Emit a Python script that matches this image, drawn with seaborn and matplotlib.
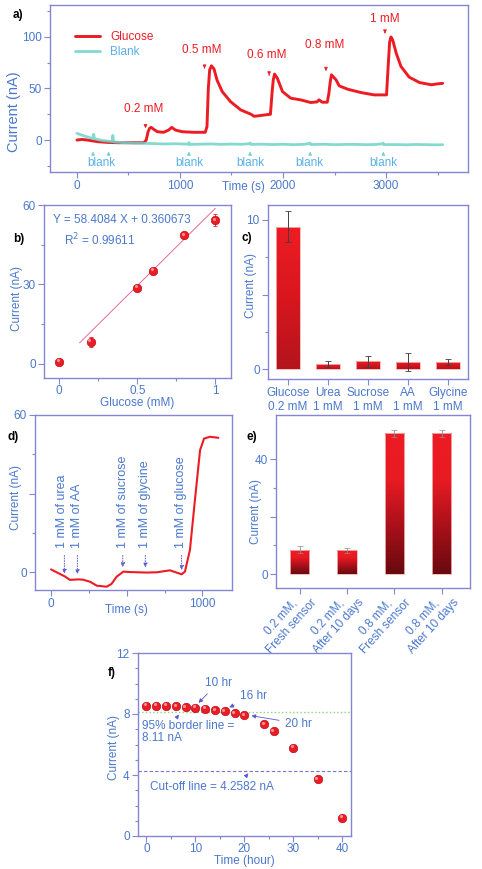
import numpy as np
import matplotlib
matplotlib.use('Agg')
import matplotlib.pyplot as plt
import seaborn as sns
from matplotlib.colors import LinearSegmentedColormap
from matplotlib.transforms import offset_copy, ScaledTranslation

# ---- data: a) amperometric response ----
gluc_t = [0, 50, 100, 200, 300, 400, 550, 650, 672, 690, 705, 720, 745, 780, 840, 890, 920, 955,
          1020, 1130, 1245, 1262, 1275, 1288, 1305, 1330, 1360, 1410, 1490, 1590, 1690, 1720, 1780,
          1860, 1878, 1893, 1905, 1918, 1945, 1995, 2075, 2170, 2270, 2330, 2350, 2380, 2430, 2445,
          2458, 2470, 2515, 2545, 2625, 2755, 2885, 3005, 3020, 3035, 3048, 3065, 3100, 3145, 3225,
          3325, 3440, 3500, 3550]
gluc_i = [0, 0.6, 0, -1.6, -2.3, -2.6, -2.6, -2.6, 0, 8, 11.5, 12.3, 10.4, 8.1, 7.5, 9.7, 12.3, 9.7,
          8.1, 7.5, 7.5, 13, 50, 68, 72, 69, 58, 47, 37.3, 29.2, 25, 23, 23.8,
          24.8, 25, 45, 58, 64, 60, 47, 40.6, 39, 36.4, 37, 39, 36.7, 36.7, 45,
          56, 63.3, 58.4, 52.6, 49.4, 46.1, 43.8, 43.8, 70, 95, 100, 97, 84, 71.4, 61,
          55.8, 53.6, 54.5, 55]
blank_t = [0, 40, 100, 155, 162, 170, 250, 340, 348, 356, 450, 550, 650, 750, 850, 950, 1083, 1088,
           1093, 1200, 1300, 1400, 1500, 1600, 1676, 1681, 1686, 1800, 1900, 2000, 2100, 2200, 2258,
           2263, 2268, 2400, 2500, 2600, 2700, 2800, 2900, 2968, 2973, 2978, 3100, 3200, 3300, 3400,
           3500, 3550]
blank_i = [6.5, 5, 3, 1.5, 5.5, 1.2, -0.5, -1.5, 4.5, -1.8, -2.5, -3, -3.2, -3.5, -3.8, -3.6, -4, -2.5,
           -4.2, -4, -3.8, -4.2, -3.9, -4.1, -3.6, -2.8, -4.2, -4, -4.4, -4.1, -4.5, -4.2, -3.4,
           -2.9, -4.4, -4.1, -4.5, -4.3, -4.2, -4.5, -4.3, -3.6, -3.0, -4.4, -4.4, -4.6, -4.3, -4.5,
           -4.7, -4.5]
conc_labels = ['0.2 mM', '0.5 mM', '0.6 mM', '0.8 mM', '1 mM']
conc_text_t = [649, 1216, 1839, 2400, 2984]
conc_text_i = [29.9, 87, 82.8, 91.9, 117.9]
conc_arrow_t = [665, 1238, 1865, 2417, 2990]
conc_arrow_i = [(16.2, 11.4), (73, 66.6), (65.6, 60), (71.4, 64.3), (107, 100.6)]
blank_text_t = [237, 1087, 1680, 2254, 2974]
blank_arrow_t = [156, 308, 1087, 1680, 2264, 2974]

# ---- b) calibration ----
cal_x = [0, 0.2, 0.5, 0.6, 0.8, 1.0]
cal_y = [0.9, 8.4, 28.8, 35.2, 48.7, 54.3]
cal_err = [0.5, 1.9, 0.8, 0.6, 1.0, 2.3]
fit_slope, fit_icpt = 58.4084, 0.360673
fit_range = [0.13, 1.0]

# ---- c) interference ----
int_labels = ['Glucose\n0.2 mM', 'Urea\n1 mM', 'Sucrose\n1 mM', 'AA\n1 mM', 'Glycine\n1 mM']
int_vals = [9.55, 0.33, 0.55, 0.47, 0.5]
int_err = [1.05, 0.2, 0.37, 0.6, 0.22]

# ---- d) sequential addition ----
seq_t = [0, 92, 125, 180, 210, 258, 302, 368, 400, 434, 478, 522, 632, 698, 786, 830, 863, 885,
         918, 951, 985, 1011, 1050, 1106]
seq_i = [1.1, -1.6, -2.9, -2.7, -2.8, -3.6, -5.1, -5.5, -4.4, -1.65, 0.25, 0.1, -0.1, 0, 0.75, -0.1,
         -0.75, 0.25, 8.5, 27.6, 46.6, 51, 51.7, 51.3]
add_labels = ['1 mM of urea', '1 mM of AA', '1 mM of sucrose', '1 mM of glycine', '1 mM of glucose']
add_text_t = [70, 174, 474, 623, 859]
add_arrow_t = [88, 174, 474, 623, 863]
add_arrow_end = [-1.6, -1.8, 0.9, 0.8, -0.2]

# ---- e) storage stability ----
stab_labels = ['0.2 mM,\nFresh sensor', '0.2 mM,\nAfter 10 days', '0.8 mM,\nFresh sensor', '0.8 mM,\nAfter 10 days']
stab_vals = [8.58, 8.35, 48.9, 48.9]
stab_err = [1.1, 0.8, 1.1, 1.1]

# ---- f) continuous operation ----
hours = [0, 2, 4, 6, 8, 10, 12, 14, 16, 18, 20, 24, 26, 30, 35, 40]
hour_i = [8.55, 8.55, 8.55, 8.53, 8.47, 8.42, 8.36, 8.23, 8.2, 8.05, 7.92, 7.35, 6.87, 5.8, 3.71, 1.2]
border_line = 8.11
cutoff_line = 4.2582

RED = '#ec1c24'
TEAL = '#6fd3c9'
BLUE = '#4a78cc'
LBLUE = '#5ab0e6'
SPINE = '#8585d6'
ARROW = '#5a5ad0'
FS = 8.5

sns.set_style('ticks')
plt.rcParams['font.family'] = ['Liberation Sans', 'DejaVu Sans']

fig = plt.figure(figsize=(4.82, 8.69), dpi=100)
W, H = 482, 869


def add_ax(l, t, r, b):
    return fig.add_axes([l / W, 1 - b / H, (r - l) / W, (b - t) / H])


def style(ax):
    for s in ax.spines.values():
        s.set_visible(True)
        s.set_color(SPINE)
        s.set_linewidth(1)
    ax.tick_params(which='both', direction='out', color=SPINE, labelcolor=BLUE, labelsize=FS, width=0.8)
    ax.tick_params(which='major', length=4, pad=2)
    ax.tick_params(which='minor', length=2.5)
    ax.xaxis.label.set_color(BLUE)
    ax.yaxis.label.set_color(BLUE)
    ax.xaxis.label.set_size(FS)
    ax.yaxis.label.set_size(FS)


def balls(ax, x, y):
    sns.scatterplot(x=x, y=y, ax=ax, color=RED, s=38, edgecolor='#b00010', linewidth=0.4, zorder=4)
    tr = offset_copy(ax.transData, fig=fig, x=-0.9, y=0.9, units='points')
    ax.scatter(x, y, s=5, color='#ff9090', linewidths=0, transform=tr, zorder=5)


def gradient_bars(ax, colors):
    cmap = LinearSegmentedColormap.from_list('g', colors)
    grad = np.linspace(0, 1, 256).reshape(-1, 1)
    for b in list(ax.patches):
        x0, y0, w, h = b.get_x(), b.get_y(), b.get_width(), b.get_height()
        im = ax.imshow(grad, cmap=cmap, extent=[x0, x0 + w, y0, y0 + h], origin='lower',
                       aspect='auto', zorder=2, interpolation='bilinear')
        im.set_clip_path(b)
        b.set_facecolor('none')
        b.set_edgecolor('#f2b4b4')
        b.set_linewidth(0.6)
        b.set_zorder(3)


# ================= a) =================
ax = add_ax(50, 5, 468, 172)
sns.lineplot(x=gluc_t, y=gluc_i, ax=ax, color=RED, lw=2.1, label='Glucose', zorder=3)
sns.lineplot(x=blank_t, y=blank_i, ax=ax, color=TEAL, lw=2.0, alpha=0.85, label='Blank', zorder=4)
ax.set_xlim(-262, 3796)
ax.set_ylim(-31, 131)
ax.set_xticks([0, 1000, 2000, 3000])
ax.set_xticks([500, 1500, 2500, 3500], minor=True)
ax.set_yticks([0, 50, 100])
ax.set_yticks([-25, 25, 75, 125], minor=True)
ax.set_xlabel('Time (s)')
ax.set_ylabel('Current (nA)')
style(ax)
ax.yaxis.label.set_size(10.5)
ax.xaxis.set_label_coords(0.462, -0.055)
ax.yaxis.set_label_coords(-0.07, 0.36)
leg = ax.legend(loc='upper left', bbox_to_anchor=(0.06, 0.845), frameon=False, fontsize=FS,
                handlelength=2.1, handletextpad=0.9, labelspacing=0.3, borderaxespad=0, borderpad=0)
for txt, c in zip(leg.get_texts(), [RED, LBLUE]):
    txt.set_color(c)
for lab, tx, ty in zip(conc_labels, conc_text_t, conc_text_i):
    ax.text(tx, ty, lab, color=RED, fontsize=FS, ha='center', va='center')
for tx, (y0, y1) in zip(conc_arrow_t, conc_arrow_i):
    ax.annotate('', xy=(tx, y1), xytext=(tx, y0),
                arrowprops=dict(arrowstyle='-|>', color=RED, lw=0.6, mutation_scale=5))
for tx in blank_text_t:
    ax.text(tx, -22.7, 'blank', color=LBLUE, fontsize=FS, ha='center', va='center')
for tx in blank_arrow_t:
    ax.annotate('', xy=(tx, -8.5), xytext=(tx, -16),
                arrowprops=dict(arrowstyle='-|>', color=TEAL, lw=0.6, mutation_scale=5))

# ================= b) =================
ax = add_ax(44, 205, 231, 378)
fx = np.array(fit_range)
ax.plot(fx, fit_slope * fx + fit_icpt, color='#e8508a', lw=0.6, zorder=2)
ax.errorbar(cal_x, cal_y, yerr=cal_err, fmt='none', ecolor=RED, elinewidth=0.6, capsize=1.5,
            capthick=0.6, zorder=3)
balls(ax, cal_x, cal_y)
ax.set_xlim(-0.098, 1.10)
ax.set_ylim(-5.3, 60)
ax.set_xticks([0, 0.5, 1])
ax.set_xticklabels(['0', '0.5', '1'])
ax.set_xticks([0.25, 0.75], minor=True)
ax.set_yticks([0, 30, 60])
ax.set_yticks([15, 45], minor=True)
ax.set_xlabel('Glucose (mM)')
ax.set_ylabel('Current (nA)')
style(ax)
ax.tick_params(axis='x', which='major', pad=1)
ax.xaxis.set_label_coords(0.5, -0.112)
ax.yaxis.set_label_coords(-0.11, 0.46)
ax.text(-0.043, 54.3, 'Y = 58.4084 X + 0.360673', color=BLUE, fontsize=FS, ha='left', va='center')
ax.text(0.032, 46.8, 'R$^2$ = 0.99611', color=BLUE, fontsize=FS, ha='left', va='center')

# ================= c) =================
ax = add_ax(268, 205, 468, 379)
sns.barplot(x=int_labels, y=int_vals, ax=ax, color=RED, width=0.6, errorbar=None)
gradient_bars(ax, ['#b3141c', '#d8161e', '#ee1c24'])
ax.errorbar(range(len(int_vals)), int_vals, yerr=int_err, fmt='none', ecolor='#404040',
            elinewidth=0.7, capsize=2, capthick=0.6, zorder=5)
ax.set_xlim(-0.5, 4.5)
ax.set_ylim(-0.65, 11.0)
ax.set_yticks([0, 5, 10])
ax.set_yticklabels(['0', '', '10'])
ax.set_yticks([2.5, 7.5], minor=True)
ax.set_ylabel('Current (nA)')
ax.set_xlabel('')
style(ax)
ax.yaxis.set_label_coords(-0.055, 0.54)

# ================= d) =================
ax = add_ax(35, 415, 232, 590)
sns.lineplot(x=seq_t, y=seq_i, ax=ax, color=RED, lw=1.5)
for lab, tx in zip(add_labels, add_text_t):
    ax.text(tx, 9.2, lab, color=BLUE, fontsize=9, rotation=90, ha='center', va='bottom')
for tx, ye in zip(add_arrow_t, add_arrow_end):
    ax.annotate('', xy=(tx, ye), xytext=(tx, 7.5),
                arrowprops=dict(arrowstyle='-|>', color=ARROW, lw=0.7, ls=':', mutation_scale=6))
ax.set_xlim(-106, 1196)
ax.set_ylim(-6.75, 60)
ax.set_xticks([0, 500, 1000])
ax.set_xticklabels(['0', '', '1000'])
ax.set_xticks([250, 750], minor=True)
ax.set_yticks([0, 30, 60])
ax.set_yticklabels(['0', '', '60'])
ax.set_yticks([15, 45], minor=True)
ax.set_xlabel('Time (s)')
ax.set_ylabel('Current (nA)')
style(ax)
ax.xaxis.set_label_coords(0.462, -0.08)
ax.yaxis.set_label_coords(-0.066, 0.53)

# ================= e) =================
ax = add_ax(276, 415, 470, 588)
sns.barplot(x=stab_labels, y=stab_vals, ax=ax, color=RED, width=0.41, errorbar=None)
gradient_bars(ax, ['#680a0e', '#a8101a', '#e81a22', '#ee1c24'])
ax.errorbar(range(len(stab_vals)), stab_vals, yerr=stab_err, fmt='none', ecolor='#909090',
            elinewidth=0.6, capsize=2, capthick=0.5, zorder=5)
ax.set_xlim(-0.5, 3.6)
ax.set_ylim(-4.77, 55.3)
ax.set_yticks([0, 20, 40])
ax.set_yticklabels(['0', '', '40'])
ax.set_yticks([10, 30], minor=True)
ax.set_ylabel('Current (nA)')
ax.set_xlabel('')
style(ax)
ax.yaxis.set_label_coords(-0.072, 0.44)
shift = ScaledTranslation(7 / 72, 0, fig.dpi_scale_trans)
for lab in ax.get_xticklabels():
    lab.set_rotation(48)
    lab.set_ha('right')
    lab.set_va('center')
    lab.set_rotation_mode('anchor')
    lab.set_multialignment('center')
    lab.set_transform(lab.get_transform() + shift)

# ================= f) =================
ax = add_ax(138, 653, 351, 836)
ax.axhline(border_line, color='#8fd27a', ls=':', lw=1.0, zorder=1)
ax.axhline(cutoff_line, color='#7b6fd6', ls=(0, (3, 2)), lw=0.8, zorder=1)
balls(ax, hours, hour_i)
ax.set_xlim(-1.72, 41.8)
ax.set_ylim(0, 12)
ax.set_xticks([0, 10, 20, 30, 40])
ax.set_xticks([5, 15, 25, 35], minor=True)
ax.set_yticks([0, 4, 8, 12])
ax.set_yticks([1, 2, 3, 5, 6, 7, 9, 10, 11], minor=True)
ax.set_xlabel('Time (hour)')
ax.set_ylabel('Current (nA)')
style(ax)
ax.tick_params(axis='x', which='major', pad=1)
ax.xaxis.set_label_coords(0.5, -0.105)
ax.yaxis.set_label_coords(-0.085, 0.486)
arr = dict(arrowstyle='-|>', color=ARROW, lw=0.6, mutation_scale=6)
ax.annotate('10 hr', xy=(10.25, 8.6), xytext=(14.7, 10.06), color=BLUE, fontsize=FS,
            ha='center', va='center', arrowprops=arr)
ax.annotate('16 hr', xy=(16.4, 8.36), xytext=(21.9, 9.16), color=BLUE, fontsize=FS,
            ha='center', va='center', arrowprops=arr)
ax.annotate('20 hr', xy=(20.9, 7.92), xytext=(31.1, 7.37), color=BLUE, fontsize=FS,
            ha='center', va='center', arrowprops=arr)
ax.text(-1.0, 7.62, '95% border line =\n8.11 nA', color=BLUE, fontsize=FS, ha='left', va='top',
        linespacing=1.05)
ax.annotate('', xy=(7.0, 8.11), xytext=(5.8, 7.6), arrowprops=arr)
ax.text(0.8, 3.23, 'Cut-off line = 4.2582 nA', color=BLUE, fontsize=FS, ha='left', va='center')
ax.annotate('', xy=(21.2, 4.25), xytext=(19.9, 3.75), arrowprops=arr)

# ---- panel letters ----
for lab, px, py in [('a)', 18, 15), ('b)', 19, 239), ('c)', 247, 238), ('d)', 13, 437),
                    ('e)', 252, 437), ('f)', 112, 673)]:
    fig.text(px / W, 1 - py / H, lab, fontsize=FS, fontweight='bold', color='black',
             ha='center', va='center')

fig.savefig('out.png', dpi=100)
